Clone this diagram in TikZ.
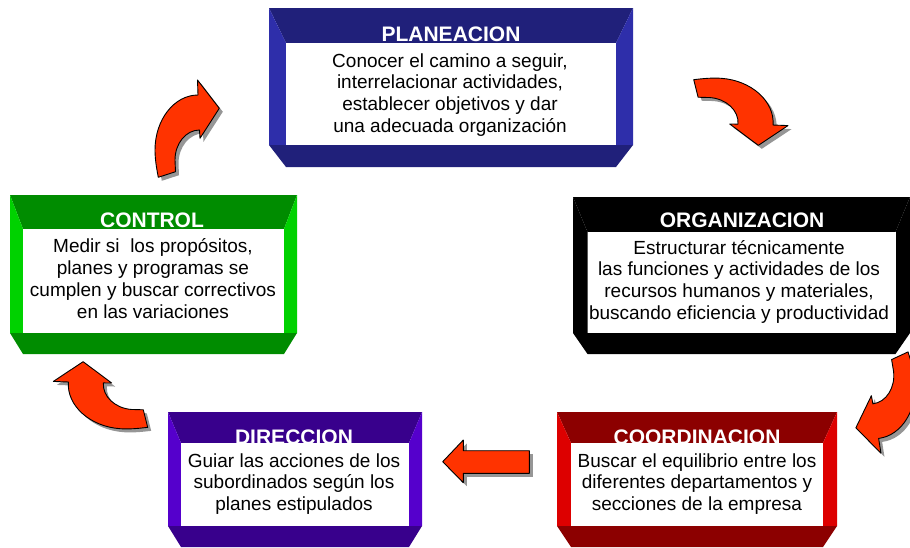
\documentclass[tikz,border=0pt]{standalone}
\usepackage{fontspec}
\setmainfont{Liberation Sans}
\usetikzlibrary{fit}
\definecolor{plandark}{RGB}{32,32,122}
\definecolor{planlight}{RGB}{46,46,170}
\definecolor{ctrldark}{RGB}{0,140,0}
\definecolor{ctrllight}{RGB}{0,210,0}
\definecolor{orgdark}{RGB}{0,0,0}
\definecolor{orglight}{RGB}{0,0,0}
\definecolor{dirdark}{RGB}{56,0,140}
\definecolor{dirlight}{RGB}{85,0,204}
\definecolor{coorddark}{RGB}{140,0,0}
\definecolor{coordlight}{RGB}{221,0,0}
\definecolor{arrowred}{RGB}{255,51,0}
\definecolor{shadowgray}{RGB}{150,150,150}
% #1 name/colour prefix, #2 L, #3 R, #4 top, #5 inner top, #6 inner bottom, #7 bottom, #8 side width
\newcommand\bevelbox[8]{%
  \fill[#1dark] (#2,-#4) -- (#3,-#4) -- (#3-#8,-#5) -- (#2+#8,-#5) -- cycle;
  \fill[#1light] (#2,-#4) -- (#2+#8,-#5) -- (#2+#8,-#6) -- (#2,-#6) -- cycle;
  \fill[#1light] (#3,-#4) -- (#3-#8,-#5) -- (#3-#8,-#6) -- (#3,-#6) -- cycle;
  \fill[#1dark] (#2,-#6) -- (#3,-#6) -- (#3-#8,-#7) -- (#2+#8,-#7) -- cycle;
  \node[fill=white, inner sep=0pt, fit={(#2+#8,-#5) (#3-#8,-#6)}] (#1box) {};
}
\tikzset{
  titletext/.style={text=white, font=\bfseries\fontsize{21}{21}\selectfont, inner sep=0pt, anchor=base},
  bodytext/.style={text=black, font=\fontsize{19}{21.8}\selectfont, align=center, inner sep=0pt, anchor=north},
  arrowbody/.style={fill=arrowred, draw=black, line width=0.9pt, line join=round},
  arrowshade/.style={fill=shadowgray, draw=none},
  curvarrow/.pic={
    \path[pic actions] (-31.7,-47.3) .. controls (-33.5,-38) and (-35,-29) .. (-35,-20)
      .. controls (-35,10.4) and (-15.7,35) .. (8,35)
      -- (7.5,50) -- (29.3,21.7) -- (10,-8.3) -- (9.5,0)
      .. controls (-4,0) and (-15,-13.4) .. (-15,-30)
      -- (-14.5,-41.7) -- cycle;
  }
}
\begin{document}
\begin{tikzpicture}[x=1pt,y=1pt]
\useasboundingbox (0,0) rectangle (910,-547);
\clip (0,0) rectangle (910,-547);

% boxes
\bevelbox{plan}{269}{633}{8}{43}{145}{167}{17}
\bevelbox{ctrl}{10}{297}{195}{229}{333}{354}{13}
\bevelbox{org}{573}{910}{197}{232}{333}{354}{14.5}
\bevelbox{dir}{168}{422}{412}{443}{526}{547}{13}
\bevelbox{coord}{557}{837}{412}{443}{526}{547}{14}

% titles
\node[titletext] (plantitle) at (451,-41.4) {PLANEACION};
\node[titletext] (ctrltitle) at (152,-227.5) {CONTROL};
\node[titletext] (orgtitle) at (742,-227.5) {ORGANIZACION};
\node[titletext] (dirtitle) at (294,-444.5) {DIRECCION};
\node[titletext] (coordtitle) at (697,-444.5) {COORDINACION};

% body texts
\node[bodytext] (plantext) at (450,-51.7) {\strut Conocer el camino a seguir,\\interrelacionar actividades,\\establecer objetivos y dar\\una adecuada organización};
\node[bodytext] (ctrltext) at (153,-237.4) {\strut Medir si~ los propósitos,\\planes y programas se\\cumplen y buscar correctivos\\en las variaciones};
\node[bodytext] (orgtext) at (739,-238.7) {\strut Estructurar técnicamente\\las funciones y actividades de los\\recursos humanos y materiales,\\buscando eficiencia y productividad};
\node[bodytext] (dirtext) at (294,-451.7) {\strut Guiar las acciones de los\\subordinados según los\\planes estipulados};
\node[bodytext] (coordtext) at (697,-451.7) {\strut Buscar el equilibrio entre los\\diferentes departamentos y\\secciones de la empresa};

% curved arrows: shadows then bodies
\pic[arrowshade] at (193.5,-133.5) {curvarrow};
\pic[arrowbody] at (190,-130) {curvarrow};

\pic[arrowshade, rotate=-94] at (742.2,-118.1) {curvarrow};
\pic[arrowbody, rotate=-94] at (738.7,-114.6) {curvarrow};

\pic[arrowshade, rotate=187] at (885.8,-406.2) {curvarrow};
\pic[arrowbody, rotate=187] at (882.3,-402.7) {curvarrow};

\pic[arrowshade, rotate=86] at (106.2,-395.9) {curvarrow};
\pic[arrowbody, rotate=86] at (102.7,-392.4) {curvarrow};

% straight arrow
\fill[shadowgray, shift={(3.5,-3.5)}] (529.3,-450.7) -- (463.3,-450.7) -- (463.3,-440) -- (442.7,-461.7) -- (463.3,-482.7) -- (463.3,-473.3) -- (529.3,-473.3) -- cycle;
\path[arrowbody] (529.3,-450.7) -- (463.3,-450.7) -- (463.3,-440) -- (442.7,-461.7) -- (463.3,-482.7) -- (463.3,-473.3) -- (529.3,-473.3) -- cycle;
\end{tikzpicture}
\end{document}
